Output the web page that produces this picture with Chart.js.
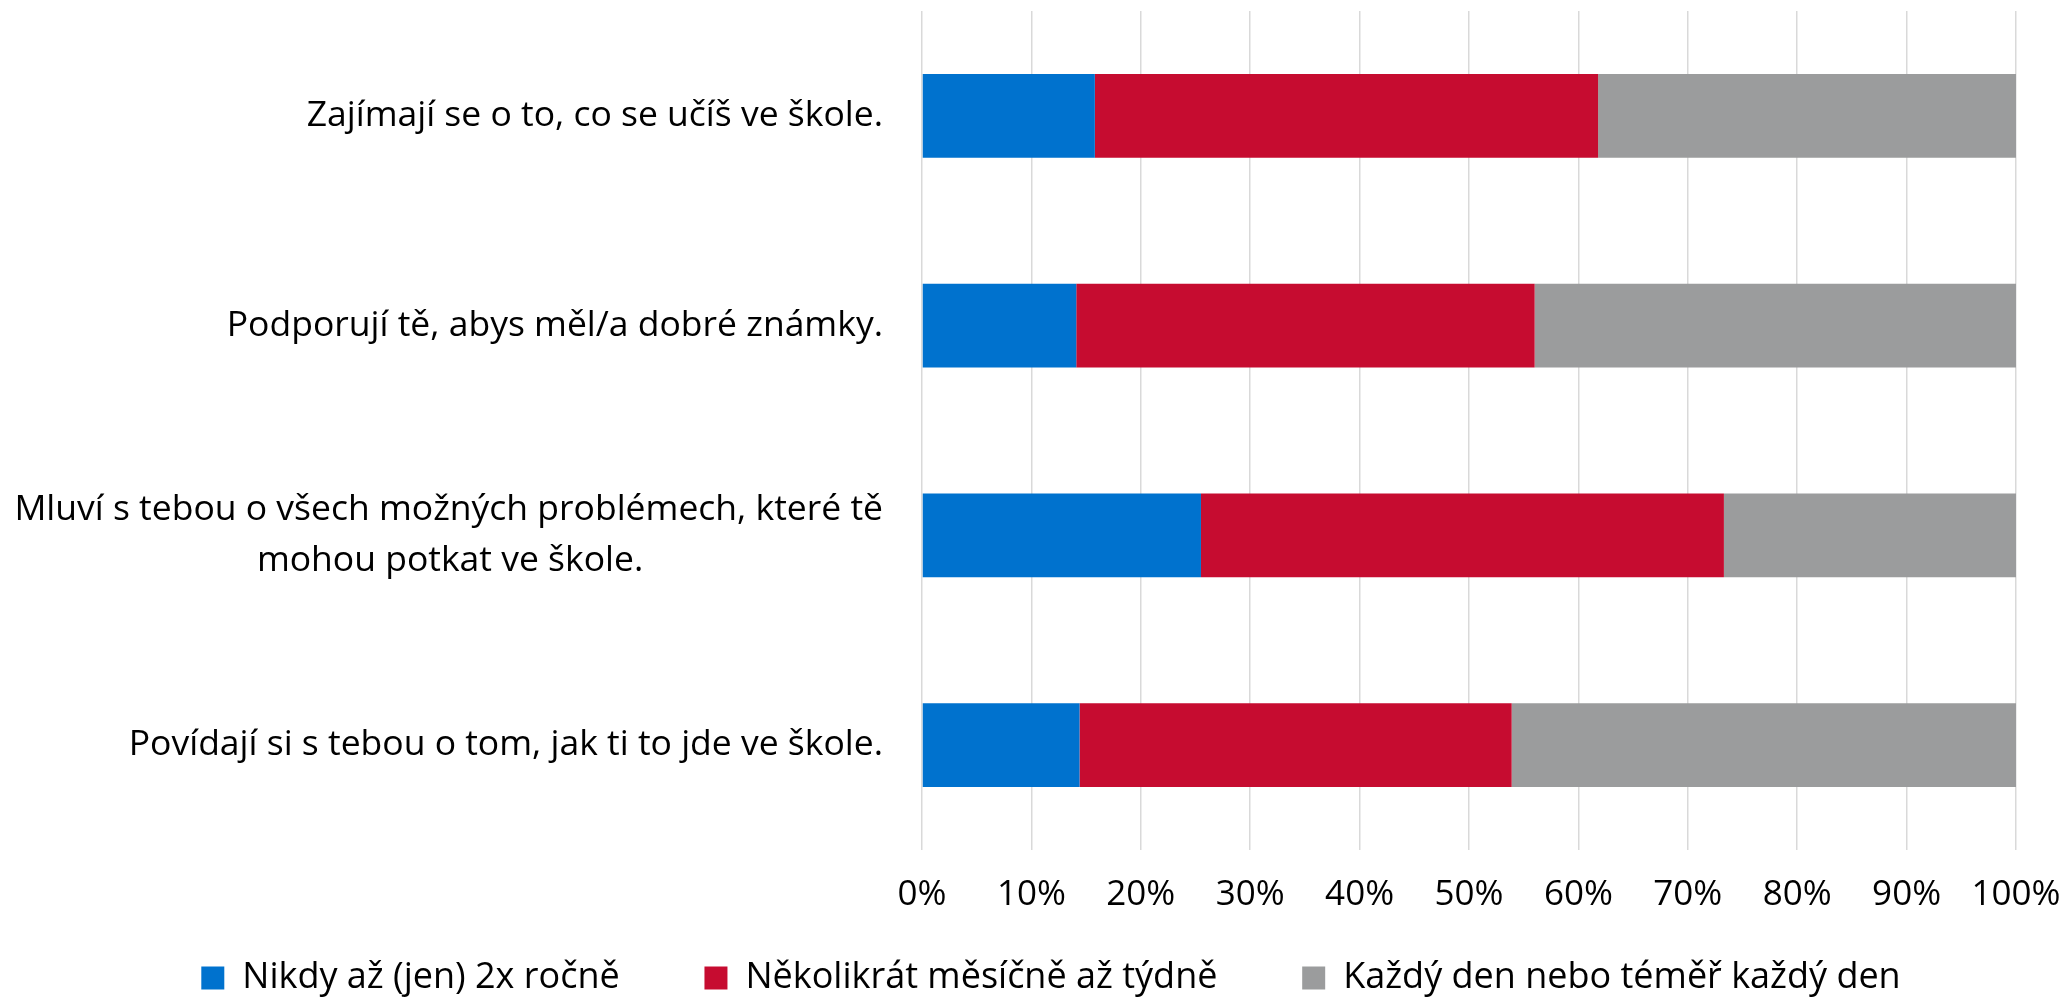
<!DOCTYPE html>
<html>
<head>
<meta charset="utf-8">
<script src="https://cdn.jsdelivr.net/npm/chart.js@4/dist/chart.umd.min.js"></script>
<style>
  html, body { margin: 0; padding: 0; background: #fff; overflow: hidden; }
  #wrap { width: 2066px; height: 997px; position: relative; }
</style>
</head>
<body>
<div id="wrap"><canvas id="chart"></canvas></div>
<script>
const categories = [
    'Zajímají se o to, co se učíš ve škole.',
    'Podporují tě, abys měl/a dobré známky.',
    ['Mluví s tebou o všech možných problémech, které tě', 'mohou potkat ve škole.'],
    'Povídají si s tebou o tom, jak ti to jde ve škole.'
];
const seriesNames = ['Nikdy až (jen) 2x ročně', 'Několikrát měsíčně až týdně', 'Každý den nebo téměř každý den'];
const nikdy = [15.8, 14.1, 25.5, 14.4];
const nekolikrat = [46.0, 41.9, 47.8, 39.5];
const kazdy = [38.2, 44.0, 26.7, 46.1];
const xTicks = [0, 10, 20, 30, 40, 50, 60, 70, 80, 90, 100];

const FONT = '"Open Sans", "Noto Sans", sans-serif';
const LABEL_SIZE = 35.5;

// centre the second line of a wrapped label under the first one
const measureCtx = document.createElement('canvas').getContext('2d');
function centredLines(lines) {
    if (!Array.isArray(lines)) return lines;
    measureCtx.font = LABEL_SIZE + 'px ' + FONT;
    const w0 = measureCtx.measureText(lines[0]).width;
    const sp = measureCtx.measureText('\u00a0').width;
    return lines.map(line => {
        const w = measureCtx.measureText(line).width;
        const n = Math.round((w0 - w) / 2 / sp);
        return line + '\u00a0'.repeat(Math.max(n, 0));
    });
}

// let the long category labels run to the canvas edge instead of being clipped
const unclipYLabels = {
    id: 'unclipYLabels',
    afterLayout(chart) {
        chart.scales.y.left = 0;
    }
};

function draw() {
    const ctx = document.getElementById('chart').getContext('2d');
    new Chart(ctx, {
        type: 'bar',
        data: {
            labels: categories,
            datasets: [
                { label: seriesNames[0], data: nikdy, backgroundColor: '#0072CE' },
                { label: seriesNames[1], data: nekolikrat, backgroundColor: '#C60C30' },
                { label: seriesNames[2], data: kazdy, backgroundColor: '#9B9C9D' }
            ]
        },
        plugins: [unclipYLabels],
        options: {
            indexAxis: 'y',
            responsive: true,
            maintainAspectRatio: false,
            animation: false,
            datasets: {
                bar: { categoryPercentage: 1.0, barPercentage: 0.4 }
            },
            layout: {
                padding: { left: 86, right: 50, top: 11, bottom: -9 }
            },
            scales: {
                x: {
                    stacked: true,
                    min: 0,
                    max: 100,
                    afterBuildTicks: scale => {
                        scale.ticks = xTicks.map(v => ({ value: v }));
                    },
                    afterFit: scale => {
                        scale.paddingLeft = 0;
                        scale.paddingRight = 0;
                        scale.height = 72;
                    },
                    ticks: {
                        padding: 24,
                        color: '#000',
                        font: { family: FONT, size: 35 },
                        callback: v => v + '%'
                    },
                    grid: { color: '#d9d9d9', lineWidth: 1.5, drawTicks: false },
                    border: { display: false }
                },
                y: {
                    stacked: true,
                    afterFit: scale => {
                        scale.width = 922 - 86;
                        scale.paddingTop = 0;
                        scale.paddingBottom = 0;
                    },
                    ticks: {
                        padding: 39,
                        color: '#000',
                        font: { family: FONT, size: LABEL_SIZE, lineHeight: 1.42 },
                        callback: function (value) {
                            return centredLines(this.getLabelForValue(value));
                        }
                    },
                    grid: { display: false, drawTicks: false },
                    border: { display: false }
                }
            },
            plugins: {
                legend: {
                    position: 'bottom',
                    labels: {
                        color: '#000',
                        font: { family: FONT, size: 36 },
                        boxWidth: 23,
                        boxHeight: 23,
                        padding: 38,
                        generateLabels: chart => {
                            const items = Chart.defaults.plugins.legend.labels.generateLabels(chart);
                            items.forEach((it, i) => {
                                it.lineWidth = 0;
                                if (i < items.length - 1) it.text = it.text + '\u00a0'.repeat(5);
                            });
                            return items;
                        }
                    }
                },
                tooltip: { enabled: false }
            }
        }
    });
}

document.fonts.load(LABEL_SIZE + 'px "Open Sans"').then(draw, draw);
</script>
</body>
</html>
